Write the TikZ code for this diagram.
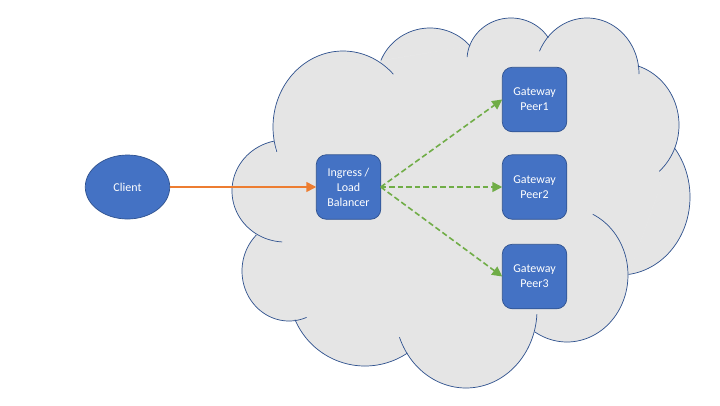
\documentclass[tikz,border=0pt]{standalone}
\usepackage{fontspec}
\setmainfont{Carlito}
\usetikzlibrary{arrows.meta,shapes.geometric}
\definecolor{shapefill}{HTML}{4472C4}
\definecolor{shapeedge}{HTML}{2F528F}
\definecolor{cloudgrey}{HTML}{E5E5E5}
\definecolor{linkorange}{HTML}{ED7D31}
\definecolor{linkgreen}{HTML}{70AD47}
% centre x, centre y, radius x, radius y, start angle, end angle
\newcommand{\lobefill}[6]{\filldraw[cloudgrey,line width=0.5pt] plot[domain=#5:#6,samples=60] ({#1+#3*cos(\x)},{#2+#4*sin(\x)}) -- cycle;}
\newcommand{\lobeline}[6]{\draw[shapeedge,line width=0.7pt] plot[domain=#5:#6,samples=60] ({#1+#3*cos(\x)},{#2+#4*sin(\x)});}
\newcommand{\cloudlobes}[1]{%
#1{285}{191}{53}{51}{258}{93}
#1{343}{127}{70}{76}{161}{316}
#1{430}{80}{53}{52}{202}{319}
#1{511}{60}{44}{42}{184}{328}
#1{587}{74}{52}{56}{204}{360}
#1{620}{125}{59}{62}{-72.5}{48.3}
#1{620}{197}{70}{78}{-39}{83}
#1{567}{275}{61}{67}{-65}{122}
#1{466}{310}{71}{78}{3}{159.6}
#1{365}{290}{76}{76}{56}{157}
#1{289}{271}{47}{50}{68}{226}
}
\tikzset{
  bluebox/.style={draw=shapeedge,fill=shapefill,line width=0.7pt,rounded corners=10pt,
    minimum width=64.5pt,minimum height=64.5pt,inner sep=0pt,outer sep=0pt,
    text=white,align=center,font=\fontsize{12}{15}\selectfont},
  blueoval/.style={ellipse,draw=shapeedge,fill=shapefill,line width=0.7pt,
    minimum width=84.5pt,minimum height=64pt,inner sep=0pt,outer sep=0pt,
    text=white,font=\fontsize{12}{15}\selectfont},
  orangelink/.style={draw=linkorange,line width=1.5pt,-{Triangle[length=10pt,width=10pt]}},
  greenlink/.style={draw=linkgreen,line width=1.6pt,dash pattern=on 5.5pt off 3pt,
    -{Triangle[length=10pt,width=10pt]}}
}
\begin{document}
\begin{tikzpicture}[x=1pt,y=-1pt]
\useasboundingbox (0,0) rectangle (720,405);
\fill[white] (0,0) rectangle (720,405);
\filldraw[cloudgrey,line width=0.5pt] (276,150) -- (381,61) -- (470,46) -- (548,38) -- (638,65) -- (674,148)
  -- (628,275) -- (567,330) -- (534,332) -- (407,353) -- (294,320) -- (255,234) -- cycle;
\cloudlobes{\lobefill}
\cloudlobes{\lobeline}
\node[blueoval] (client) at (127.5,187) {Client};
\node[bluebox] (ingress) at (348.5,187) {Ingress /\\Load\\Balancer};
\node[bluebox] (peerone) at (534.5,99.5) {Gateway\\Peer1};
\node[bluebox] (peertwo) at (534.5,187) {Gateway\\Peer2};
\node[bluebox] (peerthree) at (534.5,276.5) {Gateway\\Peer3};
\draw[orangelink] (client.east) -- (ingress.west);
\draw[greenlink] (ingress.east) -- (peerone.west);
\draw[greenlink] (ingress.east) -- (peertwo.west);
\draw[greenlink] (ingress.east) -- (peerthree.west);
\end{tikzpicture}
\end{document}
